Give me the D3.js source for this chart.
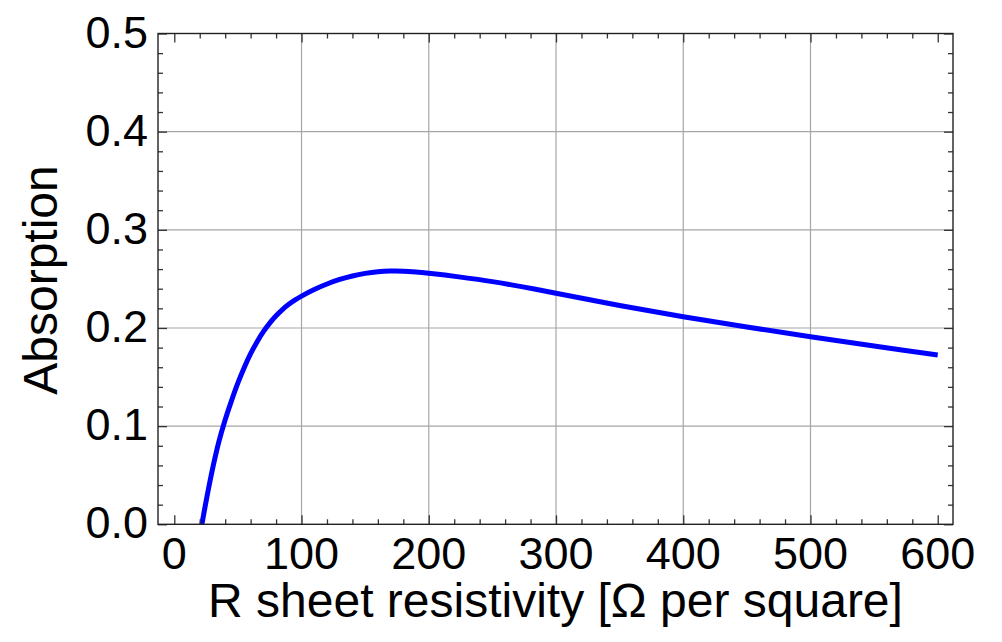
<!DOCTYPE html>
<html>
<head>
<meta charset="utf-8">
<script src="https://cdn.jsdelivr.net/npm/d3@7"></script>
<style>
  html, body { margin: 0; padding: 0; background: #fff; }
  svg { display: block; }
  text { font-family: "Liberation Sans", Arial, Helvetica, sans-serif; fill: #000; }
</style>
</head>
<body>
<svg id="chart" width="1002" height="642"></svg>
<script>
// ---- data ----
const resistance = [21.7, 25, 30, 35, 40, 45, 50, 55, 60, 65, 70, 75, 80, 85, 90, 95, 100, 110, 120, 130, 140, 150, 160, 170, 180, 190, 200, 225, 250, 275, 300, 350, 400, 450, 500, 550, 600];
const absorption = [0, 0.0235, 0.056, 0.084, 0.1065, 0.1260, 0.1440, 0.1598, 0.1738, 0.1858, 0.1962, 0.2050, 0.2125, 0.2188, 0.2241, 0.2286, 0.2325, 0.2392, 0.2448, 0.2494, 0.2530, 0.2556, 0.2573, 0.2580, 0.2579, 0.2570, 0.2557, 0.2518, 0.2472, 0.2416, 0.2354, 0.2229, 0.2115, 0.2010, 0.1911, 0.1816, 0.1725];
const xMajorTicks = [0, 100, 200, 300, 400, 500, 600];
const yMajorTicks = [0, 0.1, 0.2, 0.3, 0.4, 0.5];
const xGrid = [100, 200, 300, 400, 500];
const yGrid = [0.1, 0.2, 0.3, 0.4];
const xTitle = "R sheet resistivity [Ω per square]";
const yTitle = "Absorption";

const svg = d3.select("#chart");
const L = 158, R = 953, T = 33.5, B = 524.3;

const x = d3.scaleLinear().domain([-12.8, 612]).range([L, R]);
const y = d3.scaleLinear().domain([0, 0.5]).range([B, T]);

const xMinor = d3.range(0, 601, 20).filter(v => v % 100 !== 0);
const yMinor = d3.range(0, 26).map(i => +(i * 0.02).toFixed(2)).filter(v => Math.round(v * 100) % 10 !== 0);

// gridlines
const g = svg.append("g");
g.selectAll(".vg").data(xGrid).join("line")
  .attr("x1", d => x(d)).attr("x2", d => x(d))
  .attr("y1", T).attr("y2", B)
  .attr("stroke", "#a6a6a6").attr("stroke-width", 1.2);
g.selectAll(".hg").data(yGrid).join("line")
  .attr("x1", L).attr("x2", R)
  .attr("y1", d => y(d)).attr("y2", d => y(d))
  .attr("stroke", "#a6a6a6").attr("stroke-width", 1.2);

// curve
const line = d3.line()
  .x((d, i) => x(resistance[i]))
  .y(d => y(d))
  .curve(d3.curveCatmullRom.alpha(0.5));
svg.append("path")
  .attr("d", line(absorption))
  .attr("fill", "none")
  .attr("stroke", "#0000ff")
  .attr("stroke-width", 5)
  .attr("stroke-linecap", "butt")
  .attr("stroke-linejoin", "round");

// frame ticks via axes (inward)
const tickCol = "#333";
function styleAxis(sel) {
  sel.select(".domain").remove();
  sel.selectAll(".tick line").attr("stroke", tickCol).attr("stroke-width", 1.3);
  sel.selectAll("text").remove();
}
// major
svg.append("g").attr("transform", `translate(0,${B})`)
  .call(d3.axisBottom(x).tickValues(xMajorTicks).tickSize(-9)).call(styleAxis);
svg.append("g").attr("transform", `translate(0,${T})`)
  .call(d3.axisTop(x).tickValues(xMajorTicks).tickSize(-9)).call(styleAxis);
svg.append("g").attr("transform", `translate(${L},0)`)
  .call(d3.axisLeft(y).tickValues(yMajorTicks).tickSize(-9)).call(styleAxis);
svg.append("g").attr("transform", `translate(${R},0)`)
  .call(d3.axisRight(y).tickValues(yMajorTicks).tickSize(-9)).call(styleAxis);
// minor
svg.append("g").attr("transform", `translate(0,${B})`)
  .call(d3.axisBottom(x).tickValues(xMinor).tickSize(-5)).call(styleAxis);
svg.append("g").attr("transform", `translate(0,${T})`)
  .call(d3.axisTop(x).tickValues(xMinor).tickSize(-5)).call(styleAxis);
svg.append("g").attr("transform", `translate(${L},0)`)
  .call(d3.axisLeft(y).tickValues(yMinor).tickSize(-5)).call(styleAxis);
svg.append("g").attr("transform", `translate(${R},0)`)
  .call(d3.axisRight(y).tickValues(yMinor).tickSize(-5)).call(styleAxis);

// frame
svg.append("rect")
  .attr("x", L).attr("y", T).attr("width", R - L).attr("height", B - T)
  .attr("fill", "none").attr("stroke", "#222").attr("stroke-width", 1.4);

// tick labels
svg.append("g").selectAll("text").data(xMajorTicks).join("text")
  .attr("x", d => x(d)).attr("y", 569)
  .attr("text-anchor", "middle")
  .attr("font-size", 45)
  .text(d => d);
svg.append("g").selectAll("text").data(yMajorTicks).join("text")
  .attr("x", 148).attr("y", d => y(d) + 14)
  .attr("text-anchor", "end")
  .attr("font-size", 45)
  .text(d => d3.format(".1f")(d));

// titles
svg.append("text")
  .attr("x", (L + R) / 2).attr("y", 617)
  .attr("text-anchor", "middle")
  .attr("font-size", 48)
  .text(xTitle);
svg.append("text")
  .attr("transform", `translate(57,${(167 + 393) / 2}) rotate(-90)`)
  .attr("text-anchor", "middle")
  .attr("font-size", 48)
  .text(yTitle);
</script>
</body>
</html>
